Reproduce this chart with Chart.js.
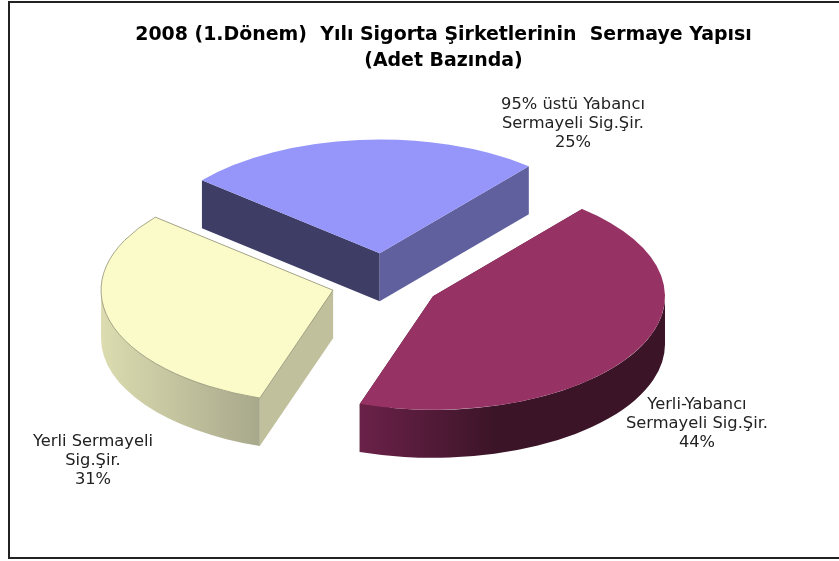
<!DOCTYPE html>
<html><head><meta charset="utf-8">
<style>html,body{margin:0;padding:0;background:#fff}canvas{display:block}</style>
<script src="https://cdn.jsdelivr.net/npm/chart.js@4"></script>
</head><body><canvas id="c" width="839" height="561"></canvas>
<script>
const titleLines = ['2008 (1.Dönem)  Yılı Sigorta Şirketlerinin  Sermaye Yapısı', '(Adet Bazında)'];
const categories = [['95% üstü Yabancı', 'Sermayeli Sig.Şir.'], ['Yerli-Yabancı', 'Sermayeli Sig.Şir.'], ['Yerli Sermayeli', 'Sig.Şir.']];
const values = [25, 44, 31];
const topColors = ['#9696fa', '#963264', '#fbfbc9'];
const wallStart = ['#3d3d66', '#6b2149', '#dcdcb0'];
const wallEnd = ['#60609e', '#3b1427', '#a8a88c'];
const radialWallColors = ['#3d3d66', '#60609e', '#5a1c3e', '#3b1427', '#c0c09c', '#c0c09c'];
const labelAnchors = [[573, 105], [697, 405], [93, 442]];
const explode = [61, 55, 54];
const FONT = '"DejaVu Sans", Verdana, sans-serif';
const TILT = 0.49, DEPTH = 48, CENTER_X = 385, CENTER_Y = 283, RADIUS = 232;

const pie3d = {
  id: 'pie3d',
  afterDatasetsUpdate(chart) {
    const arcs = chart.getDatasetMeta(0).data;
    chart.$pieOrigin = { x: arcs[0].x, y: arcs[0].y };
    arcs.forEach((a, i) => {
      const mid = (a.startAngle + a.endAngle) / 2;
      a.x += Math.cos(mid) * explode[i];
      a.y += Math.sin(mid) * explode[i];
    });
  },
  beforeDraw(chart) {
    const ctx = chart.ctx;
    ctx.save();
    ctx.fillStyle = '#fff';
    ctx.fillRect(0, 0, chart.width, chart.height);
    ctx.strokeStyle = '#222';
    ctx.lineWidth = 2;
    ctx.beginPath();
    ctx.moveTo(chart.width, 2);
    ctx.lineTo(9, 2);
    ctx.lineTo(9, 558);
    ctx.lineTo(chart.width, 558);
    ctx.stroke();
    ctx.restore();
  },
  beforeDatasetsDraw(chart) {
    const ctx = chart.ctx;
    const arcs = chart.getDatasetMeta(0).data;
    ctx.save();
    ctx.translate(CENTER_X, CENTER_Y);
    ctx.scale(1, TILT);
    ctx.translate(-chart.$pieOrigin.x, -chart.$pieOrigin.y);
    const D = DEPTH / TILT;
    arcs.forEach((a, i) => {
      const cx = a.x, cy = a.y, R = a.outerRadius;
      [a.startAngle, a.endAngle].forEach((ang, k) => {
        ctx.fillStyle = radialWallColors[i * 2 + k];
        ctx.beginPath();
        ctx.moveTo(cx, cy);
        ctx.lineTo(cx + R * Math.cos(ang), cy + R * Math.sin(ang));
        ctx.lineTo(cx + R * Math.cos(ang), cy + R * Math.sin(ang) + D);
        ctx.lineTo(cx, cy + D);
        ctx.closePath();
        ctx.fill();
      });
      [0, 2 * Math.PI].forEach(base => {
        const s = Math.max(a.startAngle, base), e = Math.min(a.endAngle, base + Math.PI);
        if (e <= s) return;
        const x0 = cx + R * Math.min(Math.cos(s), Math.cos(e));
        const x1 = cx + R * Math.max(Math.cos(s), Math.cos(e));
        const g = ctx.createLinearGradient(x0, 0, x1, 0);
        g.addColorStop(0, wallStart[i]);
        g.addColorStop(i === 1 ? 0.45 : 1, wallEnd[i]);
        g.addColorStop(1, wallEnd[i]);
        ctx.fillStyle = g;
        ctx.beginPath();
        ctx.arc(cx, cy, R, s, e);
        ctx.arc(cx, cy + D, R, e, s, true);
        ctx.closePath();
        ctx.fill();
      });
    });
  },
  afterDatasetsDraw(chart) {
    const ctx = chart.ctx;
    ctx.restore();
    ctx.save();
    ctx.fillStyle = '#222';
    ctx.font = '16.3px ' + FONT;
    ctx.textAlign = 'center';
    ctx.textBaseline = 'middle';
    categories.forEach((lines, i) => {
      const text = lines.concat(values[i] + '%');
      text.forEach((t, k) => ctx.fillText(t, labelAnchors[i][0], labelAnchors[i][1] + k * 19));
    });
    ctx.restore();
  }
};

new Chart(document.getElementById('c'), {
  type: 'pie',
  plugins: [pie3d],
  data: {
    labels: categories.map(l => l.join(' ')),
    datasets: [{
      data: values,
      backgroundColor: topColors,
      borderWidth: [0, 0, 1],
      borderColor: '#8a8a70',
      clip: false
    }]
  },
  options: {
    responsive: false,
    animation: false,
    rotation: -50,
    radius: RADIUS,
    layout: { padding: { left: 48, top: 22 } },
    plugins: {
      legend: { display: false },
      tooltip: { enabled: false },
      title: {
        display: true,
        text: titleLines,
        color: '#000',
        font: { family: FONT, size: 18.95, weight: 'bold', lineHeight: 1.37 },
        padding: 0
      }
    }
  }
});
</script></body></html>
